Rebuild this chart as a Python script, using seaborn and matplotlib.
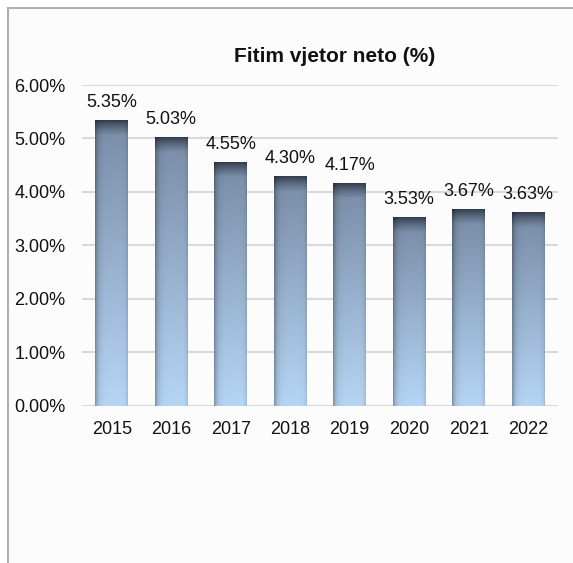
import matplotlib
matplotlib.use("Agg")
import matplotlib.pyplot as plt
import seaborn as sns
import numpy as np
import pandas as pd
from matplotlib.patches import Rectangle
from matplotlib.ticker import FuncFormatter

sns.set_style("white")
plt.rcParams["font.family"] = ["Liberation Sans", "DejaVu Sans"]

# data
years = ["2015", "2016", "2017", "2018", "2019", "2020", "2021", "2022"]
profit_pct = [5.35, 5.03, 4.55, 4.30, 4.17, 3.53, 3.67, 3.63]

df = pd.DataFrame({"Year": years, "Profit": profit_pct})

fig = plt.figure(figsize=(5.73, 5.63), dpi=100)
fig.patch.set_facecolor("white")

# chart frame
frame = Rectangle((8 / 573, -0.02), 1.0, 1 - 8 / 563 + 0.02, transform=fig.transFigure,
                  facecolor="#fcfcfc", edgecolor="#b0b0b0", linewidth=1.5, zorder=-5)
fig.patches.append(frame)

ax = fig.add_axes([82 / 573, 1 - 405.5 / 563, 476 / 573, (405.5 - 85) / 563])
ax.set_facecolor("none")
ax.set_zorder(1)

sns.barplot(data=df, x="Year", y="Profit", ax=ax, width=0.55, color="#8aa0bb", zorder=3)

ax.set_yticks(np.arange(0, 7, 1))
ax.yaxis.set_major_formatter(FuncFormatter(lambda v, p: f"{v:.2f}%"))
ax.grid(axis="y", color="#d9d9d9", linewidth=1.5, zorder=0)
ax.set_axisbelow(True)
for s in ax.spines.values():
    s.set_visible(False)
ax.tick_params(axis="both", length=0, labelsize=13, colors="#111111")
ax.tick_params(axis="y", pad=12)
ax.tick_params(axis="x", pad=11)
ax.set_xlabel("")
ax.set_ylabel("")

# gradient fill for the bars: dark cap at the top, light blue at the bottom
top = np.array([0x33, 0x3c, 0x4a]) / 255
mid = np.array([0x7c, 0x90, 0xab]) / 255
bot = np.array([0xb6, 0xd6, 0xf5]) / 255
cap = 0.28  # height of the dark cap, in data units
nx = 40
xs = np.linspace(0, 1, nx)
shade = 1 - 0.32 * np.exp(-xs / 0.09) - 0.12 * np.exp(-(1 - xs) / 0.05)

for patch in ax.patches:
    x0, y0 = patch.get_x(), patch.get_y()
    w, h = patch.get_width(), patch.get_height()
    ny = 300
    depth = np.linspace(0, h, ny)  # distance from top
    vert = np.zeros((ny, 3))
    for i, d in enumerate(depth):
        if d < cap:
            f = (d / cap) ** 0.8
            vert[i] = top + (mid - top) * f
        else:
            f = (d - cap) / (h - cap)
            vert[i] = mid + (bot - mid) * f
    img = np.clip(vert[:, None, :] * shade[None, :, None], 0, 1)
    patch.set_facecolor("none")
    patch.set_edgecolor("none")
    im = ax.imshow(img, extent=[x0, x0 + w, y0, y0 + h], aspect="auto",
                   origin="upper", zorder=3, interpolation="bilinear")
    im.set_clip_path(patch)
    ax.text(x0 + w / 2, h + 0.17, f"{h:.2f}%", ha="center", va="bottom",
            fontsize=13, color="#111111", zorder=5)

ax.set_xlim(-0.5, len(years) - 0.5)
ax.set_ylim(0, 6)

fig.text(335 / 573, 1 - 57 / 563, "Fitim vjetor neto (%)", ha="center", va="center",
         fontsize=15, fontweight="bold", color="#111111")

fig.savefig("out.png", dpi=100)
